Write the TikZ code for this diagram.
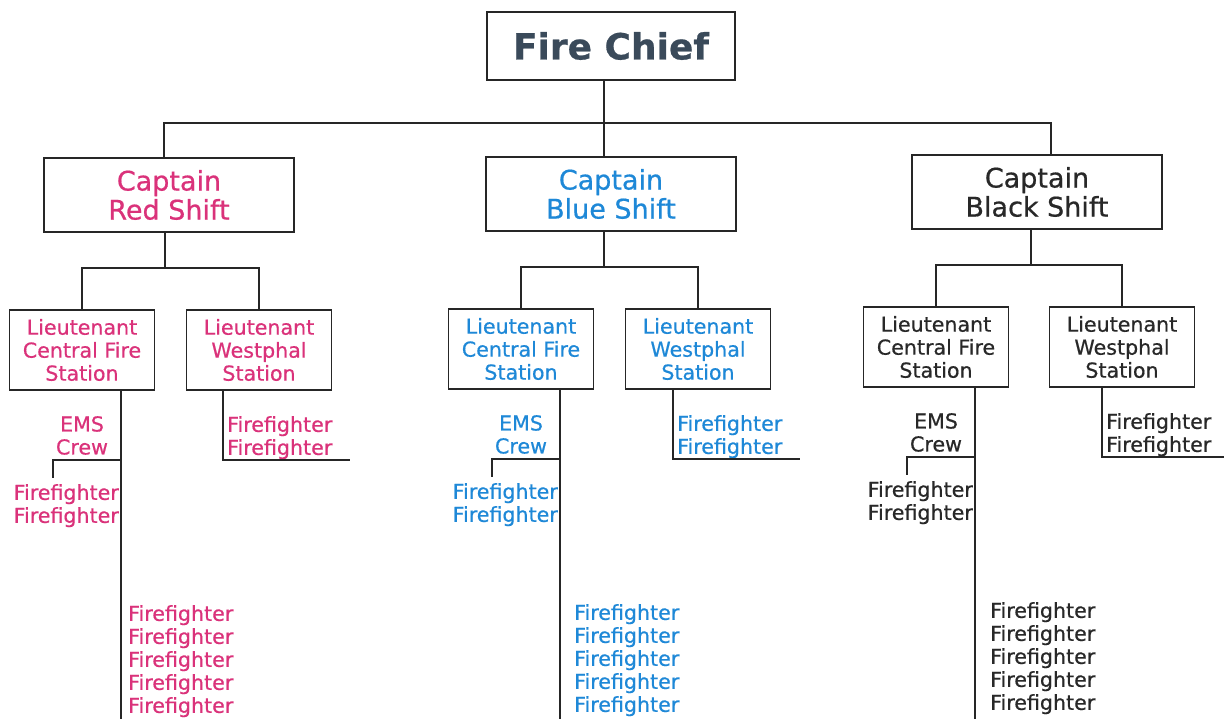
\documentclass[tikz,border=0pt]{standalone}
\usepackage{fontspec}
\setmainfont{DejaVu Sans}[FakeBold=0.6]
\usetikzlibrary{positioning}
\definecolor{shiftred}{RGB}{218,50,122}
\definecolor{shiftblue}{RGB}{30,136,215}
\definecolor{shiftblack}{RGB}{40,40,40}
\definecolor{chiefgray}{RGB}{58,74,90}
\tikzset{
  post/.style={draw=black!85, line width=1.2pt, inner sep=0pt, align=center},
  capbox/.style={post, minimum width=250pt, minimum height=74pt, font=\fontsize{27}{29}\selectfont},
  ltbox/.style={post, minimum width=145pt, minimum height=80pt, font=\fontsize{20.6}{23}\selectfont},
  crew/.style={inner sep=0pt, font=\fontsize{20.6}{23}\selectfont},
  wire/.style={draw=black!85, line width=1.2pt}
}
\begin{document}
\begin{tikzpicture}[x=1pt,y=-1pt]
\useasboundingbox (0,0) rectangle (1224,718);
\node[post, minimum width=248pt, minimum height=68pt, font=\fontsize{36}{40}\selectfont\bfseries, text=chiefgray] (chief) at (611,46) {Fire Chief};
\coordinate (bus) at (604,123);
\draw[wire] (chief.south -| bus) -- (bus);
\foreach \s/\lbl/\cx/\tx/\fx/\xo/\bl/\wx/\wb/\yo/\clr in {
    red/Red/169/164/165/0/128/259/223/0/shiftred,
    blue/Blue/611/604/604/439/574/698/673/1/shiftblue,
    black/Black/1037/1051/1031/854/990/1122/1102/3/shiftblack} {
  \begin{scope}[yshift=\yo pt]
    \node[capbox, text=\clr] (cap\s) at (\cx,195) {Captain\\\lbl\ Shift};
    \node[ltbox, text=\clr] (ltc\s) at (\xo+82,350) {Lieutenant\\Central Fire\\Station};
    \node[ltbox, text=\clr] (ltw\s) at (\wx,350) {Lieutenant\\Westphal\\Station};
    \coordinate (top\s) at (\tx,158);
    \coordinate (fork\s) at (\fx,268);
    \coordinate (tee\s) at (\xo+121,460);
    \coordinate (drop\s) at (\xo+53,478);
    \coordinate (end\s) at (\xo+121,740);
    \coordinate (wdrop\s) at (\wb,0);
    \coordinate (wend\s) at (\wb+127,460);
    % crews under central fire station
    \node[crew, text=\clr, anchor=north, align=center] (ems\s) at (\xo+82,416) {EMS\\Crew};
    \node[crew, text=\clr, anchor=north east, align=right] (ffl\s) at (\xo+119,484) {Firefighter\\Firefighter};
    \node[crew, text=\clr, anchor=north west, align=left] (ffb\s) at (\bl,605) {Firefighter\\Firefighter\\Firefighter\\Firefighter\\Firefighter};
    \node[crew, text=\clr, anchor=north west, align=left] (ffw\s) at (\wb+4,416) {Firefighter\\Firefighter};
  \end{scope}
  \draw[wire] (bus) -| (top\s);
  \draw[wire] (cap\s.south -| fork\s) -- (fork\s);
  \draw[wire] (ltc\s.north) |- (fork\s) -| (ltw\s.north);
  \draw[wire] (ltc\s.south -| tee\s) -- (end\s);
  \draw[wire] (tee\s) -| (drop\s);
  \draw[wire] (ltw\s.south -| wdrop\s) |- (wend\s);
}
\end{tikzpicture}
\end{document}
